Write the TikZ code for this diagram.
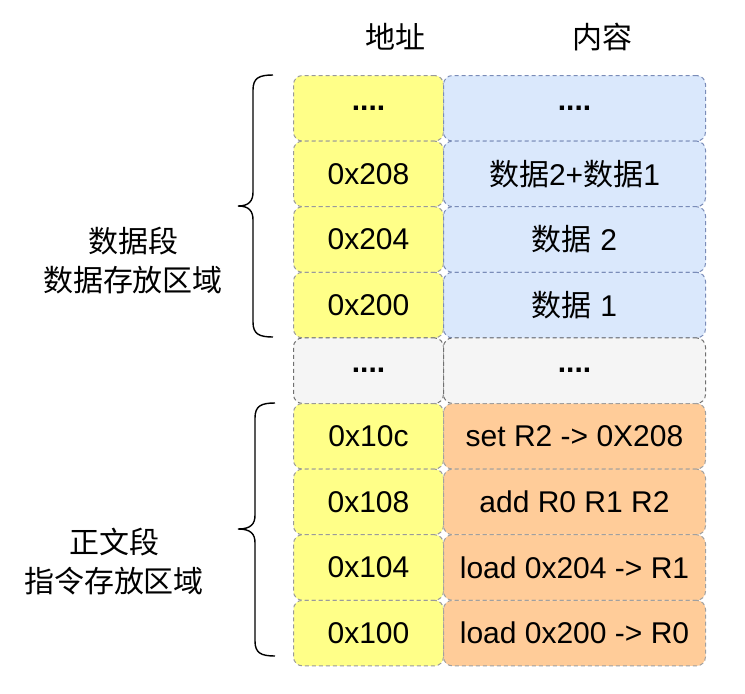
\documentclass[tikz,border=0pt]{standalone}
\usepackage{fontspec}
\setmainfont{Liberation Sans}
\newfontfamily\cjk{Noto Sans CJK SC}
\definecolor{yfill}{HTML}{FFFF88}
\definecolor{ystroke}{HTML}{9A9A9A}
\definecolor{bfill}{HTML}{DAE8FC}
\definecolor{bstroke}{HTML}{7A8CB8}
\definecolor{gfill}{HTML}{F5F5F5}
\definecolor{gstroke}{HTML}{707070}
\definecolor{ofill}{HTML}{FFCC99}
\definecolor{ostroke}{HTML}{A0A0A0}
\tikzset{
  cell/.style={draw, dashed, dash pattern=on 4pt off 3pt, line width=1pt, rounded corners=9pt,
    minimum height=65.6pt, inner sep=0pt, anchor=north west,
    font=\fontsize{30}{35}\selectfont, text=black},
  addr/.style={cell, minimum width=150pt, fill=yfill, draw=ystroke},
  blue/.style={cell, minimum width=262pt, fill=bfill, draw=bstroke},
  grey/.style={cell, minimum width=262pt, fill=gfill, draw=gstroke},
  greyaddr/.style={cell, minimum width=150pt, fill=gfill, draw=gstroke},
  orange/.style={cell, minimum width=262pt, fill=ofill, draw=ostroke},
  label/.style={font=\cjk\fontsize{30}{39}\selectfont, align=center, text=black},
  bracestyle/.style={draw=black, line width=1.4pt}
}
\begin{document}
\begin{tikzpicture}[x=1pt,y=-1pt]
\useasboundingbox (0,0) rectangle (745,694);
\fill[white] (0,0) rectangle (745,694);
% headers
\node[label] (h1) at (395,37) {地址};
\node[label] (h2) at (602,37) {内容};
% rows
\node[addr] (a1) at (293,75) {\textbf{....}};
\node[blue] (c1) at (443,75) {\textbf{....}};
\node[addr] (a2) at (293,140.6) {0x208};
\node[blue] (c2) at (443,140.6) {{\cjk 数据}2+{\cjk 数据}1};
\node[addr] (a3) at (293,206.2) {0x204};
\node[blue] (c3) at (443,206.2) {{\cjk 数据} 2};
\node[addr] (a4) at (293,271.8) {0x200};
\node[blue] (c4) at (443,271.8) {{\cjk 数据} 1};
\node[greyaddr] (a5) at (293,337.4) {\textbf{....}};
\node[grey] (c5) at (443,337.4) {\textbf{....}};
\node[addr] (a6) at (293,403) {0x10c};
\node[orange] (c6) at (443,403) {set R2 -> 0X208};
\node[addr] (a7) at (293,468.6) {0x108};
\node[orange] (c7) at (443,468.6) {add R0 R1 R2};
\node[addr] (a8) at (293,534.2) {0x104};
\node[orange] (c8) at (443,534.2) {load 0x204 -> R1};
\node[addr] (a9) at (293,599.8) {0x100};
\node[orange] (c9) at (443,599.8) {load 0x200 -> R0};
% braces
\draw[bracestyle] (273,75) .. controls (259,75) and (253,78) .. (253,90) -- (253,192)
  .. controls (253,201) and (249,206) .. (238,206)
  .. controls (249,206) and (253,211) .. (253,220) -- (253,322)
  .. controls (253,334) and (259,337) .. (273,337);
\draw[bracestyle] (275,403) .. controls (261,403) and (255,406) .. (255,418) -- (255,515)
  .. controls (255,524) and (251,529) .. (238,529)
  .. controls (251,529) and (255,534) .. (255,543) -- (255,641)
  .. controls (255,653) and (261,656) .. (275,656);
% labels
\node[label] (l1) at (133,261) {数据段\\数据存放区域};
\node[label] (l2) at (114,562) {正文段\\指令存放区域};
\end{tikzpicture}
\end{document}
